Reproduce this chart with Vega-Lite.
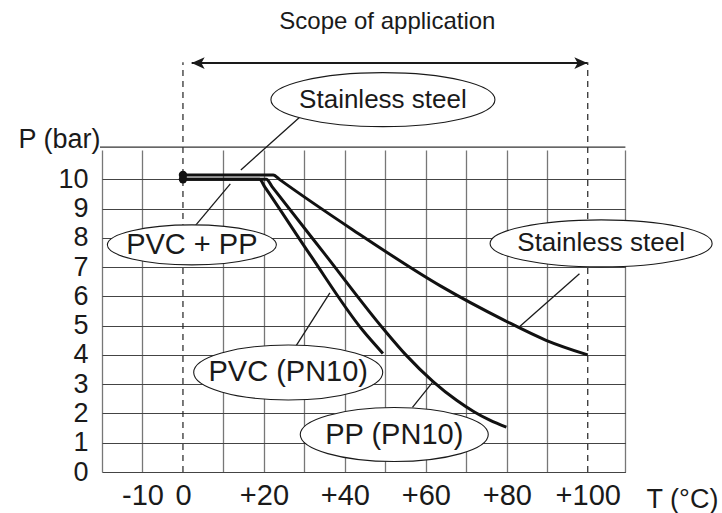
{
  "$schema": "https://vega.github.io/schema/vega-lite/v6.json",
  "width": 523.4,
  "height": 322,
  "autosize": {"type": "none"},
  "padding": {"left": 102, "top": 150, "right": 96.6, "bottom": 41},
  "background": "white",
  "config": {"view": {"stroke": null}, "font": "Liberation Sans"},
  "datasets": {
    "curves": [
      {"series": "Stainless steel", "T": 0, "P": 10.15},
      {"series": "Stainless steel", "T": 22.3, "P": 10.15},
      {"series": "Stainless steel", "T": 24, "P": 9.98},
      {"series": "Stainless steel", "T": 42.0, "P": 8.27},
      {"series": "Stainless steel", "T": 63.7, "P": 6.35},
      {"series": "Stainless steel", "T": 79.3, "P": 5.19},
      {"series": "Stainless steel", "T": 89.7, "P": 4.5},
      {"series": "Stainless steel", "T": 100, "P": 4.0},
      {"series": "PVC (PN10)", "T": 0, "P": 10},
      {"series": "PVC (PN10)", "T": 18.9, "P": 10},
      {"series": "PVC (PN10)", "T": 20.2, "P": 9.74},
      {"series": "PVC (PN10)", "T": 31.6, "P": 7.38},
      {"series": "PVC (PN10)", "T": 44.4, "P": 4.84},
      {"series": "PVC (PN10)", "T": 49.4, "P": 4.05},
      {"series": "PP (PN10)", "T": 0, "P": 10},
      {"series": "PP (PN10)", "T": 20.6, "P": 10},
      {"series": "PP (PN10)", "T": 22, "P": 9.75},
      {"series": "PP (PN10)", "T": 35, "P": 7.45},
      {"series": "PP (PN10)", "T": 49.8, "P": 4.84},
      {"series": "PP (PN10)", "T": 55, "P": 4.01},
      {"series": "PP (PN10)", "T": 61.8, "P": 3.09},
      {"series": "PP (PN10)", "T": 67.6, "P": 2.45},
      {"series": "PP (PN10)", "T": 72, "P": 2.05},
      {"series": "PP (PN10)", "T": 75.8, "P": 1.77},
      {"series": "PP (PN10)", "T": 79.9, "P": 1.53}
    ],
    "dots": [{"T": 0, "P": 10.15}, {"T": 0, "P": 10}],
    "labels": [
      {"id": "s1", "label": "Stainless steel", "T": 49.4, "P": 12.72},
      {"id": "pvcpp", "label": "PVC + PP", "T": 2.2, "P": 7.76},
      {"id": "s2", "label": "Stainless steel", "T": 103.3, "P": 7.81},
      {"id": "pvc", "label": "PVC (PN10)", "T": 26.0, "P": 3.4},
      {"id": "pp", "label": "PP (PN10)", "T": 52.2, "P": 1.28}
    ],
    "leaders": [
      {"T": 28.9, "P": 12.13, "T2": 14.3, "P2": 10.32},
      {"T": 2.96, "P": 8.4, "T2": 11.7, "P2": 9.84},
      {"T": 97.95, "P": 6.77, "T2": 83.2, "P2": 4.97},
      {"T": 27.9, "P": 4.3, "T2": 36.3, "P2": 6.12},
      {"T": 56.7, "P": 2.21, "T2": 61.8, "P2": 3.09}
    ],
    "scope": [{"T": 0, "P": 0, "P2": 14.0}, {"T": 100, "P": 0, "P2": 14.0}],
    "arrow": [{"T": 2.15, "T2": 99.9, "P": 13.97}],
    "heads": [{"side": "left", "T": 2.15, "P": 13.97}, {"side": "right", "T": 99.9, "P": 13.97}],
    "topline": [{"T": -20.5, "T2": 109.3, "P": 11.1}],
    "title": [{"text": "Scope of application", "T": 50.5, "P": 15.12}]
  },
  "encoding": {
    "x": {
      "field": "T",
      "type": "quantitative",
      "scale": {"domain": [-20, 109.3], "nice": false, "zero": false},
      "axis": {
        "values": [-20, -10, 0, 10, 20, 30, 40, 50, 60, 70, 80, 90, 100, 109.3],
        "labelExpr": "indexof([-10, 0, 20, 40, 60, 80, 100], datum.value) >= 0 ? (datum.value > 0 ? '+' + datum.value : '' + datum.value) : ''",
        "grid": true,
        "gridColor": "#777777",
        "gridWidth": 1.3,
        "gridOpacity": {"condition": {"test": "datum.value == 0 || datum.value == 100", "value": 0}, "value": 1},
        "domain": false,
        "ticks": false,
        "labelFontSize": 29,
        "labelColor": "#1a1a1a",
        "labelPadding": 9,
        "labelFlush": false,
        "labelOverlap": false,
        "title": "T (°C)",
        "titleX": 580,
        "titleY": 35,
        "titleAlign": "center",
        "titleBaseline": "alphabetic",
        "titleFontSize": 27,
        "titleFontWeight": "normal",
        "titleColor": "#1a1a1a"
      }
    },
    "y": {
      "field": "P",
      "type": "quantitative",
      "scale": {"domain": [0, 11], "nice": false, "zero": false},
      "axis": {
        "values": [0, 1, 2, 3, 4, 5, 6, 7, 8, 9, 10],
        "grid": true,
        "gridColor": "#444444",
        "gridWidth": 1.2,
        "domain": false,
        "ticks": false,
        "labelFontSize": 27,
        "labelColor": "#1a1a1a",
        "labelPadding": 14,
        "labelOverlap": false,
        "labelFlush": false,
        "title": "P (bar)",
        "titleAngle": 0,
        "titleX": -2,
        "titleY": -3,
        "titleAlign": "right",
        "titleBaseline": "alphabetic",
        "titleFontSize": 27,
        "titleFontWeight": "normal",
        "titleColor": "#1a1a1a"
      }
    }
  },
  "resolve": {"scale": {"shape": "independent"}},
  "layer": [
    {
      "data": {"name": "scope"},
      "mark": {"type": "rule", "strokeDash": [6, 5], "strokeWidth": 1.2, "color": "#222222"},
      "encoding": {"y2": {"field": "P2"}}
    },
    {
      "data": {"name": "topline"},
      "mark": {"type": "rule", "strokeWidth": 1.3, "color": "#333333"},
      "encoding": {"x2": {"field": "T2"}}
    },
    {
      "data": {"name": "arrow"},
      "mark": {"type": "rule", "strokeWidth": 2, "color": "#1a1a1a"},
      "encoding": {"x2": {"field": "T2"}}
    },
    {
      "data": {"name": "heads"},
      "mark": {"type": "point", "filled": true, "size": 169, "opacity": 1, "color": "#1a1a1a"},
      "encoding": {
        "shape": {
          "field": "side",
          "type": "nominal",
          "scale": {"domain": ["left", "right"], "range": ["M0,0L2,-0.9L1.5,0L2,0.9Z", "M0,0L-2,-0.9L-1.5,0L-2,0.9Z"]},
          "legend": null
        }
      }
    },
    {
      "data": {"name": "curves"},
      "mark": {"type": "line", "strokeWidth": 3, "color": "#111111", "strokeJoin": "round", "interpolate": "monotone"},
      "encoding": {"detail": {"field": "series", "type": "nominal"}}
    },
    {
      "data": {"name": "dots"},
      "mark": {"type": "point", "filled": true, "size": 70, "opacity": 1, "color": "#111111"}
    },
    {
      "data": {"name": "leaders"},
      "mark": {"type": "rule", "strokeWidth": 1.3, "color": "#1a1a1a"},
      "encoding": {"x2": {"field": "T2"}, "y2": {"field": "P2"}}
    },
    {
      "data": {"name": "labels"},
      "mark": {"type": "point", "filled": true, "size": 40000, "opacity": 1, "fill": "white", "stroke": "#1a1a1a", "strokeWidth": 1.1},
      "encoding": {
        "shape": {
          "field": "id",
          "type": "nominal",
          "scale": {
            "domain": ["s1", "pvcpp", "s2", "pvc", "pp"],
            "range": [
              "M-1.12,0A1.12,0.27,0,1,1,1.12,0A1.12,0.27,0,1,1,-1.12,0Z",
              "M-0.845,0A0.845,0.2,0,1,1,0.845,0A0.845,0.2,0,1,1,-0.845,0Z",
              "M-1.11,0A1.11,0.235,0,1,1,1.11,0A1.11,0.235,0,1,1,-1.11,0Z",
              "M-0.945,0A0.945,0.275,0,1,1,0.945,0A0.945,0.275,0,1,1,-0.945,0Z",
              "M-0.94,0A0.94,0.27,0,1,1,0.94,0A0.94,0.27,0,1,1,-0.94,0Z"
            ]
          },
          "legend": null
        }
      }
    },
    {
      "data": {"name": "labels"},
      "transform": [{"filter": "datum.id == 's1' || datum.id == 's2'"}],
      "mark": {"type": "text", "fontSize": 26, "align": "center", "baseline": "middle", "color": "#1a1a1a"},
      "encoding": {"text": {"field": "label"}}
    },
    {
      "data": {"name": "labels"},
      "transform": [{"filter": "datum.id != 's1' && datum.id != 's2'"}],
      "mark": {"type": "text", "fontSize": 29, "align": "center", "baseline": "middle", "color": "#1a1a1a"},
      "encoding": {"text": {"field": "label"}}
    },
    {
      "data": {"name": "title"},
      "mark": {"type": "text", "fontSize": 24, "align": "center", "baseline": "alphabetic", "color": "#1a1a1a"},
      "encoding": {"text": {"field": "text"}}
    }
  ]
}
